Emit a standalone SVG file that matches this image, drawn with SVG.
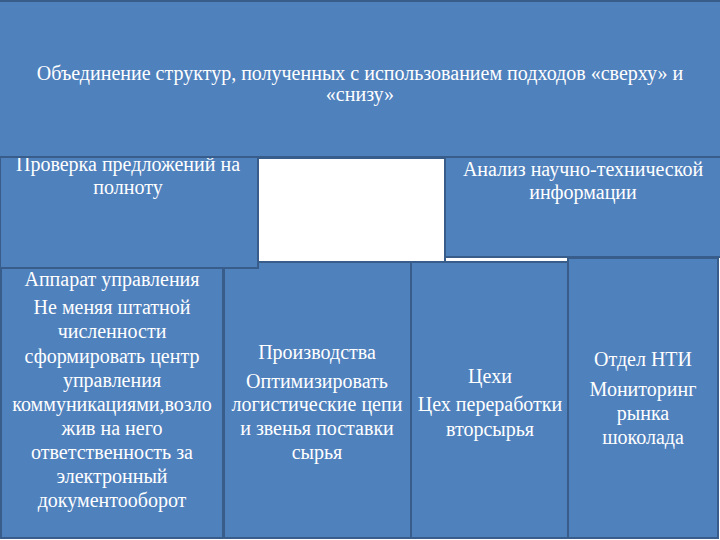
<svg xmlns="http://www.w3.org/2000/svg" width="720" height="540" viewBox="0 0 720 540">
<style>
.box{fill:#4f81bd;stroke:#385d8a;stroke-width:2}
.t{fill:#ffffff;font-family:'Liberation Serif','Times New Roman',serif;font-size:20px;text-anchor:middle}
</style>
<rect x="0" y="0" width="720" height="540" fill="#ffffff"/>
<g id="connectors"></g>
<g id="n-col1"><rect class="box" x="1" y="268" width="222" height="270"/>
<text class="t"><tspan x="112" y="286">Аппарат управления</tspan><tspan x="112" y="314">Не меняя штатной</tspan><tspan x="112" y="338">численности</tspan><tspan x="112" y="363">сформировать центр</tspan><tspan x="112" y="387">управления</tspan><tspan x="112" y="411">коммуникациями,возло</tspan><tspan x="112" y="435">жив на него</tspan><tspan x="112" y="459">ответственность за</tspan><tspan x="112" y="483">электронный</tspan><tspan x="112" y="507">документооборот</tspan></text></g>
<g id="n-col2"><rect class="box" x="224" y="262" width="187" height="276"/>
<text class="t"><tspan x="317" y="359">Производства</tspan><tspan x="317" y="388">Оптимизировать</tspan><tspan x="317" y="411">логистические цепи</tspan><tspan x="317" y="435">и звенья поставки</tspan><tspan x="317" y="459">сырья</tspan></text></g>
<g id="n-col3"><rect class="box" x="411" y="262" width="157" height="276"/>
<text class="t"><tspan x="490" y="383">Цехи</tspan><tspan x="490" y="411">Цех переработки</tspan><tspan x="490" y="436">вторсырья</tspan></text></g>
<g id="n-col4"><rect class="box" x="568" y="258" width="150" height="280"/>
<text class="t"><tspan x="643" y="366">Отдел НТИ</tspan><tspan x="643" y="396">Мониторинг</tspan><tspan x="643" y="420">рынка</tspan><tspan x="643" y="444">шоколада</tspan></text></g>
<g id="n-white"><rect x="258" y="158" width="187" height="104" fill="#ffffff" stroke="#385d8a" stroke-width="2"/></g>
<g id="n-left"><rect class="box" x="0" y="150" width="258" height="118"/>
<text class="t"><tspan x="128" y="171">Проверка предложений на</tspan><tspan x="128" y="194">полноту</tspan></text></g>
<g id="n-right"><rect class="box" x="445" y="150" width="276" height="107"/>
<text class="t"><tspan x="583" y="176">Анализ научно-технической</tspan><tspan x="583" y="199">информации</tspan></text></g>
<g id="n-top"><rect class="box" x="-1" y="1" width="722" height="156"/>
<text class="t"><tspan x="360" y="80">Объединение структур, полученных с использованием подходов «сверху» и</tspan><tspan x="360" y="101">«снизу»</tspan></text></g>
</svg>
